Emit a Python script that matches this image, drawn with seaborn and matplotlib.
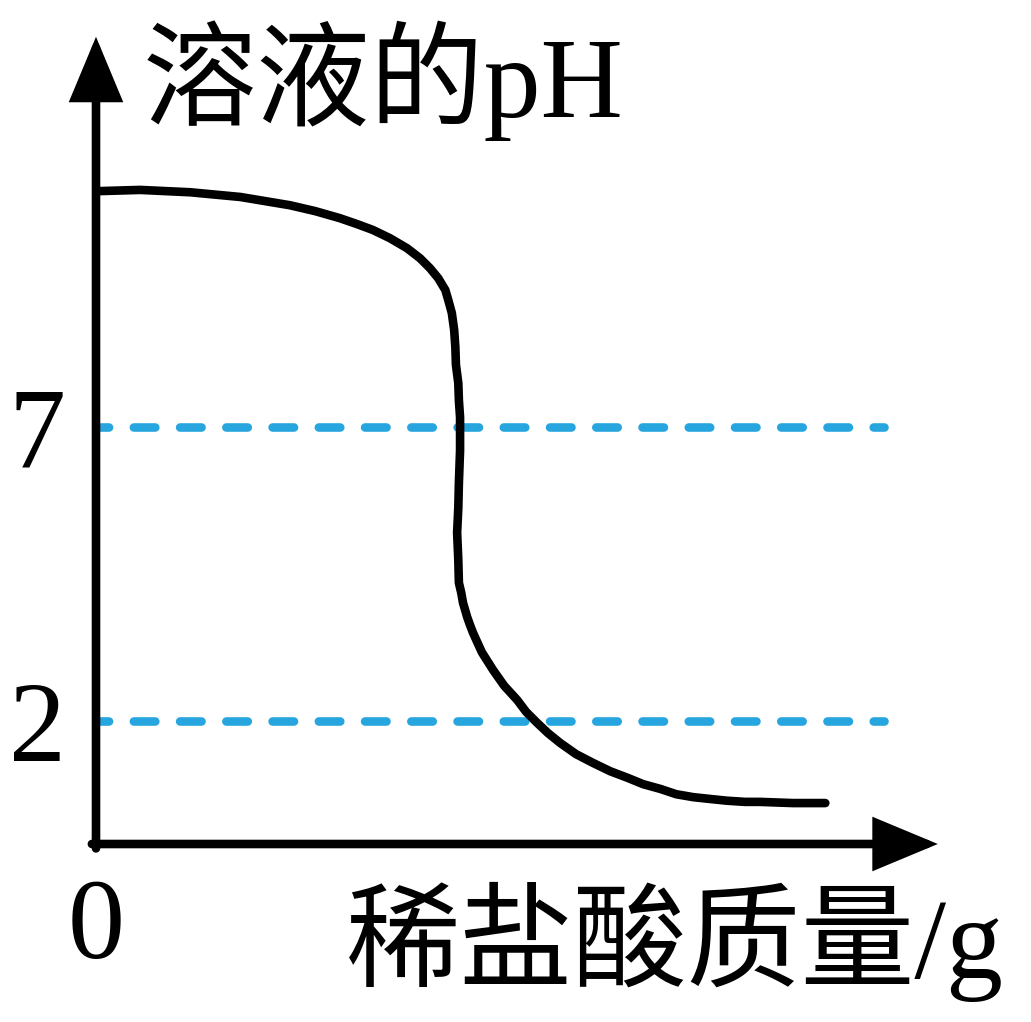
import matplotlib
matplotlib.use("Agg")
import matplotlib.pyplot as plt
import pandas as pd
import seaborn as sns

# curve: mass of dilute HCl (arbitrary units) vs pH
acid_mass = [0.0, 0.07, 0.75, 1.60, 2.45, 3.29, 3.72, 4.14, 4.43, 4.70, 4.99,
             5.28, 5.50, 5.67, 5.81, 5.93, 5.98, 6.04, 6.08, 6.10, 6.11, 6.15,
             6.16, 6.18, 6.18, 6.16, 6.15, 6.13, 6.15, 6.16, 6.20, 6.23, 6.30,
             6.35, 6.40, 6.55, 6.74, 6.93, 7.15, 7.30, 7.49, 7.67, 7.88, 8.15,
             8.44, 8.73, 9.02, 9.29, 9.58, 9.85, 10.14, 10.42, 10.71, 11.02,
             11.27, 11.83, 12.38]
solution_ph = [11.0, 11.0, 11.02, 10.98, 10.90, 10.76, 10.66, 10.54, 10.44,
               10.34, 10.20, 10.03, 9.86, 9.69, 9.52, 9.32, 9.15, 8.93, 8.64,
               8.35, 8.05, 7.74, 7.45, 7.16, 6.60, 6.04, 5.62, 5.20, 4.74,
               4.35, 4.18, 4.01, 3.77, 3.63, 3.50, 3.17, 2.87, 2.60, 2.36,
               2.16, 1.97, 1.80, 1.63, 1.44, 1.29, 1.15, 1.04, 0.93, 0.85,
               0.76, 0.71, 0.68, 0.65, 0.63, 0.63, 0.61, 0.61]

ref_levels = [7, 2]
ref_labels = ["7", "2"]
ref_span = [0, 13.38]

y_title = "溶液的pH"
x_title = "稀盐酸质量/g"
origin_label = "0"

sns.set_theme(style="white")
plt.rcParams["font.family"] = ["Liberation Serif", "Noto Sans CJK SC", "DejaVu Sans"]

W, H = 1031, 1022
fig = plt.figure(figsize=(W / 100, H / 100), dpi=100)
ax = fig.add_axes([96 / W, (H - 844) / H, (939 - 96) / W, (844 - 35) / H])
ax.set_xlim(0, 14.31)
ax.set_ylim(-0.085, 13.65)

blue = "#26A5DE"
for lvl in ref_levels:
    ax.plot(ref_span, [lvl, lvl], color=blue, lw=6.2,
            linestyle=(1.03, (2.49, 2.88)), dash_capstyle="round", zorder=1)

df = pd.DataFrame({"mass": acid_mass, "pH": solution_ph})
sns.lineplot(data=df, x="mass", y="pH", sort=False, estimator=None,
             color="black", lw=6.2, solid_capstyle="round",
             solid_joinstyle="round", ax=ax, zorder=3)

# arrowed axes
arrow = dict(arrowstyle="-|>,head_length=36,head_width=15", mutation_scale=1,
             lw=6.2, color="black", shrinkA=0, shrinkB=0,
             joinstyle="miter")
ax.annotate("", xy=(0, 13.62), xytext=(0, -0.16), arrowprops=arrow,
            annotation_clip=False)
ax.annotate("", xy=(14.29, -0.085), xytext=(-0.07, -0.085), arrowprops=arrow,
            annotation_clip=False)

for s in ax.spines.values():
    s.set_visible(False)
ax.set_xticks([])
ax.set_yticks(ref_levels, labels=ref_labels)
ax.tick_params(axis="y", length=0, pad=22, labelsize=82, labelcolor="black")
ax.set_xlabel("")
ax.set_ylabel("")

ax.text(0, -2.02, origin_label, ha="center", va="baseline", fontsize=82,
        color="black", clip_on=False)
fig.text(143 / W, (H - 117) / H, y_title, ha="left", va="baseline",
         fontsize=82, color="black")
fig.text(346 / W, (H - 978) / H, x_title, ha="left", va="baseline",
         fontsize=82, color="black")

fig.savefig("out.png", dpi=100, facecolor="white")
